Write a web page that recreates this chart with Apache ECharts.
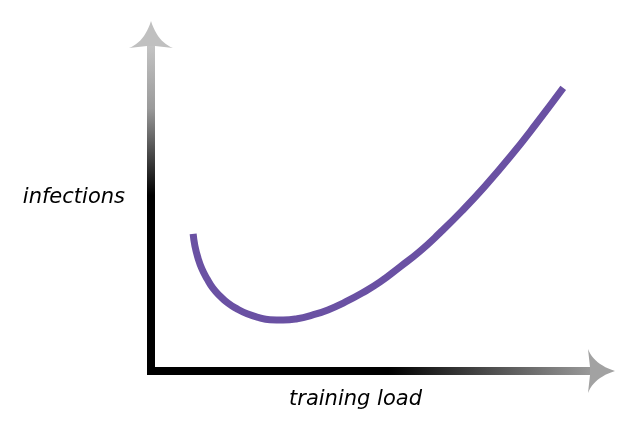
<!DOCTYPE html>
<html><head><meta charset="utf-8">
<script src="https://cdn.jsdelivr.net/npm/echarts@6/dist/echarts.min.js"></script>
<style>html,body{margin:0;padding:0;background:#fff}#c{width:640px;height:439px}</style>
</head><body><div id="c"></div>
<script>
// data (arbitrary units, 0-100 on both axes)
const trainingLoad = [9.6, 10.0, 10.7, 11.6, 12.8, 14.1, 15.7, 17.5, 19.6, 21.9, 24.4, 27.1, 30.1, 33.3, 36.7, 40.3, 44.2, 48.1, 52.2, 56.7, 61.3, 65.8, 70.8, 76.1, 81.8, 87.7, 93.9];
const infections   = [42.2, 38.5, 34.8, 31.4, 28.3, 25.5, 23.1, 20.9, 19.1, 17.6, 16.5, 15.8, 15.7, 16.1, 17.2, 18.8, 21.2, 24.0, 27.4, 32.0, 36.9, 42.5, 49.2, 56.9, 65.9, 76.0, 87.1];
const xAxisName = 'training load';
const yAxisName = 'infections';
const xRange = [0, 100];
const yRange = [0, 100];

const chart = echarts.init(document.getElementById('c'), null, {renderer: 'canvas'});
const labelFont = {fontFamily: 'DejaVu Sans', fontStyle: 'italic', fontSize: 21, color: '#000'};

function baseOption(xColor, yColor, graphics) {
  return {
    animation: false,
    backgroundColor: '#fff',
    grid: {left: 151, right: 50, top: 46, bottom: 68},
    xAxis: {
      type: 'value', min: xRange[0], max: xRange[1],
      name: xAxisName, nameLocation: 'middle', nameGap: 18,
      nameTextStyle: Object.assign({padding: [0, 30, 0, 0]}, labelFont),
      axisLine: {show: true, onZero: false, lineStyle: {color: xColor, width: 8, cap: 'square'}},
      axisTick: {show: false}, axisLabel: {show: false}, splitLine: {show: false}
    },
    yAxis: {
      type: 'value', min: yRange[0], max: yRange[1],
      name: yAxisName, nameLocation: 'middle', nameGap: 26, nameRotate: 0,
      nameTextStyle: Object.assign({align: 'right', verticalAlign: 'bottom', lineHeight: 21}, labelFont),
      axisLine: {show: true, onZero: false, lineStyle: {color: yColor, width: 8, cap: 'square'}},
      axisTick: {show: false}, axisLabel: {show: false}, splitLine: {show: false}
    },
    series: [{
      type: 'line',
      data: trainingLoad.map((x, i) => [x, infections[i]]),
      smooth: 0.5,
      showSymbol: false, symbol: 'none',
      lineStyle: {color: '#6a51a3', width: 7},
      z: 3
    }],
    graphic: graphics || []
  };
}

chart.setOption(baseOption('#000', '#000'));

const origin = chart.convertToPixel({gridIndex: 0}, [xRange[0], yRange[0]]);
const xEnd = chart.convertToPixel({gridIndex: 0}, [xRange[1], yRange[0]]);
const yEnd = chart.convertToPixel({gridIndex: 0}, [xRange[0], yRange[1]]);

function arrowPoints(base, dir, L, W) {
  const perp = [-dir[1], dir[0]];
  const pt = (a, b) => [base[0] + dir[0] * a + perp[0] * b, base[1] + dir[1] * a + perp[1] * b];
  const pts = [];
  const T = [L, 0], C1 = [0, W], P1 = [L * 0.22, W * 0.3];
  const C2 = [0, -W], P2 = [L * 0.22, -W * 0.3];
  const N = 12;
  for (let i = 0; i <= N; i++) {
    const t = i / N;
    const a = (1 - t) * (1 - t) * T[0] + 2 * (1 - t) * t * P1[0] + t * t * C1[0];
    const b = (1 - t) * (1 - t) * T[1] + 2 * (1 - t) * t * P1[1] + t * t * C1[1];
    pts.push(pt(a, b));
  }
  pts.push(pt(2, 4));
  pts.push(pt(2, -4));
  for (let i = N; i >= 0; i--) {
    const t = i / N;
    const a = (1 - t) * (1 - t) * T[0] + 2 * (1 - t) * t * P2[0] + t * t * C2[0];
    const b = (1 - t) * (1 - t) * T[1] + 2 * (1 - t) * t * P2[1] + t * t * C2[1];
    pts.push(pt(a, b));
  }
  return pts;
}

const xGrad = new echarts.graphic.LinearGradient(origin[0] - 4, 0, xEnd[0] + 4, 0, [
  {offset: 0, color: '#000'},
  {offset: 0.54, color: '#000'},
  {offset: 1, color: '#9c9c9c'}
], true);
const yGrad = new echarts.graphic.LinearGradient(0, yEnd[1] - 4, 0, origin[1] + 4, [
  {offset: 0, color: '#c6c6c6'},
  {offset: 0.2, color: '#9a9a9a'},
  {offset: 0.46, color: '#000'},
  {offset: 1, color: '#000'}
], true);

const graphics = [
  {type: 'polygon', shape: {points: arrowPoints([xEnd[0] - 2, xEnd[1]], [1, 0], 27, 22)},
   style: {fill: '#a2a2a2'}, z: 10},
  {type: 'polygon', shape: {points: arrowPoints([yEnd[0], yEnd[1] + 2], [0, -1], 27, 22)},
   style: {fill: '#c0c0c0'}, z: 10}
];

chart.setOption(baseOption(xGrad, yGrad, graphics), true);
</script>
</body></html>
